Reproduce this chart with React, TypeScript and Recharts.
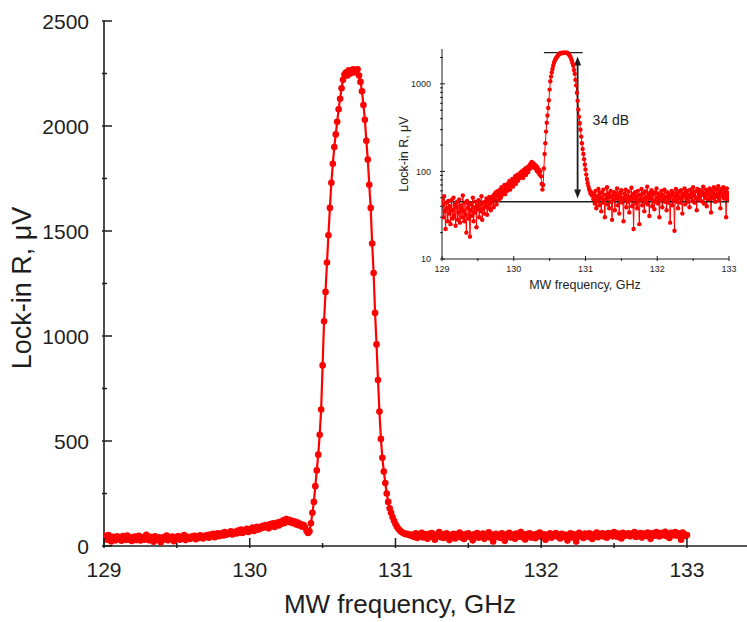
import { Label, Line, LineChart, ReferenceLine, XAxis, YAxis } from "recharts";

// MW frequency sweep, GHz (0.01 GHz step)
const FREQ_GHZ = [
  129.00, 129.01, 129.02, 129.03, 129.04, 129.05, 129.06, 129.07, 129.08, 129.09,
  129.10, 129.11, 129.12, 129.13, 129.14, 129.15, 129.16, 129.17, 129.18, 129.19,
  129.20, 129.21, 129.22, 129.23, 129.24, 129.25, 129.26, 129.27, 129.28, 129.29,
  129.30, 129.31, 129.32, 129.33, 129.34, 129.35, 129.36, 129.37, 129.38, 129.39,
  129.40, 129.41, 129.42, 129.43, 129.44, 129.45, 129.46, 129.47, 129.48, 129.49,
  129.50, 129.51, 129.52, 129.53, 129.54, 129.55, 129.56, 129.57, 129.58, 129.59,
  129.60, 129.61, 129.62, 129.63, 129.64, 129.65, 129.66, 129.67, 129.68, 129.69,
  129.70, 129.71, 129.72, 129.73, 129.74, 129.75, 129.76, 129.77, 129.78, 129.79,
  129.80, 129.81, 129.82, 129.83, 129.84, 129.85, 129.86, 129.87, 129.88, 129.89,
  129.90, 129.91, 129.92, 129.93, 129.94, 129.95, 129.96, 129.97, 129.98, 129.99,
  130.00, 130.01, 130.02, 130.03, 130.04, 130.05, 130.06, 130.07, 130.08, 130.09,
  130.10, 130.11, 130.12, 130.13, 130.14, 130.15, 130.16, 130.17, 130.18, 130.19,
  130.20, 130.21, 130.22, 130.23, 130.24, 130.25, 130.26, 130.27, 130.28, 130.29,
  130.30, 130.31, 130.32, 130.33, 130.34, 130.35, 130.36, 130.37, 130.38, 130.39,
  130.40, 130.41, 130.42, 130.43, 130.44, 130.45, 130.46, 130.47, 130.48, 130.49,
  130.50, 130.51, 130.52, 130.53, 130.54, 130.55, 130.56, 130.57, 130.58, 130.59,
  130.60, 130.61, 130.62, 130.63, 130.64, 130.65, 130.66, 130.67, 130.68, 130.69,
  130.70, 130.71, 130.72, 130.73, 130.74, 130.75, 130.76, 130.77, 130.78, 130.79,
  130.80, 130.81, 130.82, 130.83, 130.84, 130.85, 130.86, 130.87, 130.88, 130.89,
  130.90, 130.91, 130.92, 130.93, 130.94, 130.95, 130.96, 130.97, 130.98, 130.99,
  131.00, 131.01, 131.02, 131.03, 131.04, 131.05, 131.06, 131.07, 131.08, 131.09,
  131.10, 131.11, 131.12, 131.13, 131.14, 131.15, 131.16, 131.17, 131.18, 131.19,
  131.20, 131.21, 131.22, 131.23, 131.24, 131.25, 131.26, 131.27, 131.28, 131.29,
  131.30, 131.31, 131.32, 131.33, 131.34, 131.35, 131.36, 131.37, 131.38, 131.39,
  131.40, 131.41, 131.42, 131.43, 131.44, 131.45, 131.46, 131.47, 131.48, 131.49,
  131.50, 131.51, 131.52, 131.53, 131.54, 131.55, 131.56, 131.57, 131.58, 131.59,
  131.60, 131.61, 131.62, 131.63, 131.64, 131.65, 131.66, 131.67, 131.68, 131.69,
  131.70, 131.71, 131.72, 131.73, 131.74, 131.75, 131.76, 131.77, 131.78, 131.79,
  131.80, 131.81, 131.82, 131.83, 131.84, 131.85, 131.86, 131.87, 131.88, 131.89,
  131.90, 131.91, 131.92, 131.93, 131.94, 131.95, 131.96, 131.97, 131.98, 131.99,
  132.00, 132.01, 132.02, 132.03, 132.04, 132.05, 132.06, 132.07, 132.08, 132.09,
  132.10, 132.11, 132.12, 132.13, 132.14, 132.15, 132.16, 132.17, 132.18, 132.19,
  132.20, 132.21, 132.22, 132.23, 132.24, 132.25, 132.26, 132.27, 132.28, 132.29,
  132.30, 132.31, 132.32, 132.33, 132.34, 132.35, 132.36, 132.37, 132.38, 132.39,
  132.40, 132.41, 132.42, 132.43, 132.44, 132.45, 132.46, 132.47, 132.48, 132.49,
  132.50, 132.51, 132.52, 132.53, 132.54, 132.55, 132.56, 132.57, 132.58, 132.59,
  132.60, 132.61, 132.62, 132.63, 132.64, 132.65, 132.66, 132.67, 132.68, 132.69,
  132.70, 132.71, 132.72, 132.73, 132.74, 132.75, 132.76, 132.77, 132.78, 132.79,
  132.80, 132.81, 132.82, 132.83, 132.84, 132.85, 132.86, 132.87, 132.88, 132.89,
  132.90, 132.91, 132.92, 132.93, 132.94, 132.95, 132.96, 132.97, 132.98, 132.99,
  133.00,
];

// lock-in amplitude R, µV (same rows as FREQ_GHZ)
const LOCKIN_UV = [
  48, 42, 30, 52, 35, 22, 44, 38, 27, 46,
  33, 40, 25, 47, 36, 29, 50, 31, 42, 24,
  39, 45, 28, 34, 48, 26, 41, 37, 30, 53,
  35, 27, 44, 32, 20, 46, 38, 29, 42, 18,
  36, 43, 31, 50, 27, 39, 34, 45, 23, 41,
  37, 47, 30, 42, 35, 52, 28, 44, 38, 33,
  45, 40, 49, 32, 46, 38, 51, 43, 36, 48,
  44, 52, 39, 55, 48, 58, 42, 53, 60, 47,
  56, 62, 50, 66, 54, 61, 58, 70, 55, 64,
  68, 60, 73, 65, 78, 62, 75, 70, 82, 67,
  80, 74, 88, 72, 85, 92, 78, 90, 84, 96,
  88, 100, 93, 84, 104, 97, 108, 91, 102, 112,
  98, 115, 106, 122, 110, 128, 118, 125, 112, 120,
  108, 116, 102, 112, 98, 105, 92, 100, 88, 72,
  62, 70, 108, 158, 210, 285, 360, 435, 530, 650,
  860, 1070, 1210, 1350, 1480, 1610, 1730, 1820, 1900, 1960,
  2020, 2080, 2130, 2180, 2220, 2245, 2255, 2240, 2265, 2250,
  2262, 2270, 2255, 2265, 2270, 2240, 2210, 2165, 2100, 2030,
  1930, 1840, 1720, 1610, 1440, 1300, 1110, 960, 790, 640,
  510, 420, 355, 300, 250, 210, 180, 158, 138, 120,
  105, 92, 82, 74, 68, 63, 60, 56, 58, 53,
  55, 48, 55, 43, 60, 38, 52, 46, 63, 41,
  57, 50, 35, 58, 44, 62, 47, 30, 54, 49,
  66, 42, 56, 38, 51, 60, 45, 28, 53, 47,
  58, 36, 55, 49, 64, 41, 52, 33, 57, 46,
  61, 44, 50, 27, 56, 48, 62, 39, 53, 45,
  59, 34, 51, 47, 65, 40, 55, 22, 49, 58,
  43, 52, 38, 60, 46, 25, 54, 48, 63, 41,
  56, 47, 35, 59, 50, 44, 67, 42, 53, 31,
  57, 49, 61, 40, 55, 46, 37, 58, 45, 64,
  50, 43, 56, 30, 52, 47, 60, 39, 54, 48,
  62, 45, 51, 36, 58, 44, 55, 49, 26, 53,
  60, 41, 57, 47, 21, 52, 63, 45, 55, 38,
  59, 50, 44, 61, 48, 33, 56, 52, 64, 42,
  57, 49, 60, 45, 54, 39, 62, 51, 58, 46,
  66, 53, 44, 59, 50, 36, 63, 48, 57, 52,
  61, 46, 58, 54, 67, 43, 56, 50, 62, 40,
  59, 55, 48, 64, 52, 34, 60, 57, 49, 66,
  53, 45, 62, 55, 51, 68, 47, 58, 38, 63,
  56, 52, 66, 49, 60, 55, 30, 64, 57, 48,
  52,
];

const FREQ_TICKS = [129, 129.5, 130, 130.5, 131, 131.5, 132, 132.5, 133];
const FREQ_LABELS = [129, 130, 131, 132, 133];
const MAIN_Y_TICKS = [0, 250, 500, 750, 1000, 1250, 1500, 1750, 2000, 2250, 2500];
const MAIN_Y_LABELS = [0, 500, 1000, 1500, 2000, 2500];
const INSET_Y_TICKS = [10, 20, 30, 40, 50, 60, 70, 80, 90, 100, 200, 300, 400, 500, 600, 700, 800, 900, 1000, 2000];
const INSET_Y_LABELS = [10, 100, 1000];

// inset annotation: noise floor, peak level and the 34 dB span between them
const NOISE_FLOOR_UV = 45;
const PEAK_LEVEL_UV = 2270;
const ARROW_FREQ = 130.89;
const ARROW_TOP_UV = 2050;
const ARROW_BOTTOM_UV = 49;
const SPAN_TEXT = "34 dB";

const FONT = '"Liberation Sans", Arial, Helvetica, sans-serif';
const INK = "#1e1e1e";
const RED = "#ff0000";

// main frame runs a little past the cropped right edge
const MAIN_X_MAX = 133.46;

const data = FREQ_GHZ.map((f, i) => ({ f, r: LOCKIN_UV[i] }));

// ticks point into the plot, labels sit outside
function FrameTick(props: any) {
  const { x, y, payload, side, majorLen, minorLen, labelValues, fs, gap, sw } = props;
  const v = Number(payload?.value);
  const isMajor = labelValues.includes(v);
  const len = isMajor ? majorLen : minorLen;
  const showText = isMajor && fs > 0;

  if (side === "bottom") {
    return (
      <g>
        <line x1={x} y1={y} x2={x} y2={y - len} stroke={INK} strokeWidth={sw} />
        {showText && (
          <text x={x} y={y + gap + fs * 0.72} textAnchor="middle" fontSize={fs} fontFamily={FONT} fill={INK}>
            {v}
          </text>
        )}
      </g>
    );
  }
  if (side === "top") {
    return <line x1={x} y1={y} x2={x} y2={y + len} stroke={INK} strokeWidth={sw} />;
  }
  if (side === "right") {
    return <line x1={x} y1={y} x2={x - len} y2={y} stroke={INK} strokeWidth={sw} />;
  }
  return (
    <g>
      <line x1={x} y1={y} x2={x + len} y2={y} stroke={INK} strokeWidth={sw} />
      {showText && (
        <text x={x - gap} y={y + fs * 0.36} textAnchor="end" fontSize={fs} fontFamily={FONT} fill={INK}>
          {v}
        </text>
      )}
    </g>
  );
}

function AxisTitle({ tx, ty, size, rotate, text }: any) {
  return (
    <text
      x={tx}
      y={ty}
      textAnchor="middle"
      fontSize={size}
      fontFamily={FONT}
      fill={INK}
      transform={rotate ? `rotate(-90 ${tx} ${ty})` : undefined}
    >
      {text}
    </text>
  );
}

function DoubleArrow(props: any) {
  const { x1, y1, y2 } = props;
  const top = Math.min(y1, y2);
  const bottom = Math.max(y1, y2);
  const head = 9;
  const half = 3.5;
  return (
    <g>
      <line x1={x1} y1={top + head - 1} x2={x1} y2={bottom - head + 1} stroke={INK} strokeWidth={1.8} />
      <path d={`M${x1},${top} L${x1 - half},${top + head} L${x1 + half},${top + head} Z`} fill={INK} />
      <path d={`M${x1},${bottom} L${x1 - half},${bottom - head} L${x1 + half},${bottom - head} Z`} fill={INK} />
    </g>
  );
}

function MainChart() {
  const tick = { majorLen: 10, minorLen: 5, sw: 1.5 };
  return (
    <LineChart width={756} height={622} data={data} margin={{ top: 21, right: 2, bottom: 0, left: 0 }}>
      <XAxis
        dataKey="f"
        type="number"
        domain={[129, MAIN_X_MAX]}
        allowDataOverflow
        ticks={FREQ_TICKS}
        interval={0}
        height={76}
        tickSize={0}
        tickLine={false}
        axisLine={{ stroke: INK, strokeWidth: 1.6 }}
        tick={<FrameTick side="bottom" labelValues={FREQ_LABELS} fs={21} gap={14} {...tick} />}
      >
        <Label content={<AxisTitle tx={400} ty={613} size={26} text="MW frequency, GHz" />} />
      </XAxis>
      <XAxis
        xAxisId="top"
        orientation="top"
        type="number"
        domain={[129, MAIN_X_MAX]}
        allowDataOverflow
        ticks={FREQ_TICKS}
        interval={0}
        height={0}
        tickSize={0}
        tickLine={false}
        axisLine={{ stroke: INK, strokeWidth: 1.6 }}
        tick={<FrameTick side="top" labelValues={FREQ_LABELS} fs={0} gap={0} {...tick} />}
      />
      <YAxis
        type="number"
        domain={[0, 2500]}
        allowDataOverflow
        ticks={MAIN_Y_TICKS}
        interval={0}
        width={104}
        tickSize={0}
        tickLine={false}
        axisLine={{ stroke: INK, strokeWidth: 1.6 }}
        tick={<FrameTick side="left" labelValues={MAIN_Y_LABELS} fs={21} gap={13} {...tick} />}
      >
        <Label content={<AxisTitle tx={31} ty={288} size={27} rotate text="Lock-in R, μV" />} />
      </YAxis>
      <YAxis
        yAxisId="right"
        orientation="right"
        type="number"
        domain={[0, 2500]}
        allowDataOverflow
        ticks={MAIN_Y_TICKS}
        interval={0}
        width={0}
        tickSize={0}
        tickLine={false}
        axisLine={{ stroke: INK, strokeWidth: 1.6 }}
        tick={<FrameTick side="right" labelValues={MAIN_Y_LABELS} fs={0} gap={0} {...tick} />}
      />
      <Line
        dataKey="r"
        type="linear"
        stroke={RED}
        strokeWidth={2.2}
        dot={{ r: 3.3, fill: RED, stroke: "none" }}
        activeDot={false}
        isAnimationActive={false}
      />
    </LineChart>
  );
}

function InsetChart() {
  const tick = { majorLen: 5, minorLen: 3, sw: 1 };
  return (
    <LineChart width={345} height={255} data={data} margin={{ top: 9, right: 11, bottom: 0, left: 0 }}>
      <XAxis
        dataKey="f"
        type="number"
        domain={[129, 133]}
        allowDataOverflow
        ticks={FREQ_TICKS}
        interval={0}
        height={36}
        tickSize={0}
        tickLine={false}
        axisLine={{ stroke: INK, strokeWidth: 1 }}
        tick={<FrameTick side="bottom" labelValues={FREQ_LABELS} fs={9} gap={5} {...tick} />}
      >
        <Label content={<AxisTitle tx={190} ty={249} size={12.5} text="MW frequency, GHz" />} />
      </XAxis>
      <XAxis
        xAxisId="top"
        orientation="top"
        type="number"
        domain={[129, 133]}
        allowDataOverflow
        ticks={FREQ_TICKS}
        interval={0}
        height={0}
        tickSize={0}
        tickLine={false}
        axisLine={{ stroke: INK, strokeWidth: 1 }}
        tick={<FrameTick side="top" labelValues={FREQ_LABELS} fs={0} gap={0} {...tick} />}
      />
      <YAxis
        type="number"
        scale="log"
        domain={[10, 2500]}
        allowDataOverflow
        ticks={INSET_Y_TICKS}
        interval={0}
        width={47}
        tickSize={0}
        tickLine={false}
        axisLine={{ stroke: INK, strokeWidth: 1 }}
        tick={<FrameTick side="left" labelValues={INSET_Y_LABELS} fs={9} gap={9} {...tick} />}
      >
        <Label content={<AxisTitle tx={13} ty={114} size={12.5} rotate text="Lock-in R, μV" />} />
      </YAxis>
      <YAxis
        yAxisId="right"
        orientation="right"
        type="number"
        scale="log"
        domain={[10, 2500]}
        allowDataOverflow
        ticks={INSET_Y_TICKS}
        interval={0}
        width={0}
        tickSize={0}
        tickLine={false}
        axisLine={{ stroke: INK, strokeWidth: 1 }}
        tick={<FrameTick side="right" labelValues={INSET_Y_LABELS} fs={0} gap={0} {...tick} />}
      />
      <Line
        dataKey="r"
        type="linear"
        stroke={RED}
        strokeWidth={1}
        dot={{ r: 2.2, fill: RED, stroke: "none" }}
        activeDot={false}
        isAnimationActive={false}
      />
      <ReferenceLine
        segment={[{ x: 129.1, y: NOISE_FLOOR_UV }, { x: 133, y: NOISE_FLOOR_UV }]}
        stroke={INK}
        strokeWidth={1.5}
      />
      <ReferenceLine
        segment={[{ x: 130.42, y: PEAK_LEVEL_UV }, { x: 130.96, y: PEAK_LEVEL_UV }]}
        stroke={INK}
        strokeWidth={1.2}
      />
      <ReferenceLine
        segment={[{ x: ARROW_FREQ, y: ARROW_TOP_UV }, { x: ARROW_FREQ, y: ARROW_BOTTOM_UV }]}
        shape={DoubleArrow}
        label={{ value: SPAN_TEXT, position: "right", offset: 15, fontSize: 14, fill: INK, fontFamily: FONT, dy: -8 }}
      />
    </LineChart>
  );
}

export default function App() {
  return (
    <div
      style={{
        position: "absolute",
        left: 0,
        top: 0,
        width: 747,
        height: 622,
        overflow: "hidden",
        background: "#fff",
        fontFamily: FONT,
      }}
    >
      <MainChart />
      <div style={{ position: "absolute", left: 395, top: 40 }}>
        <InsetChart />
      </div>
    </div>
  );
}
